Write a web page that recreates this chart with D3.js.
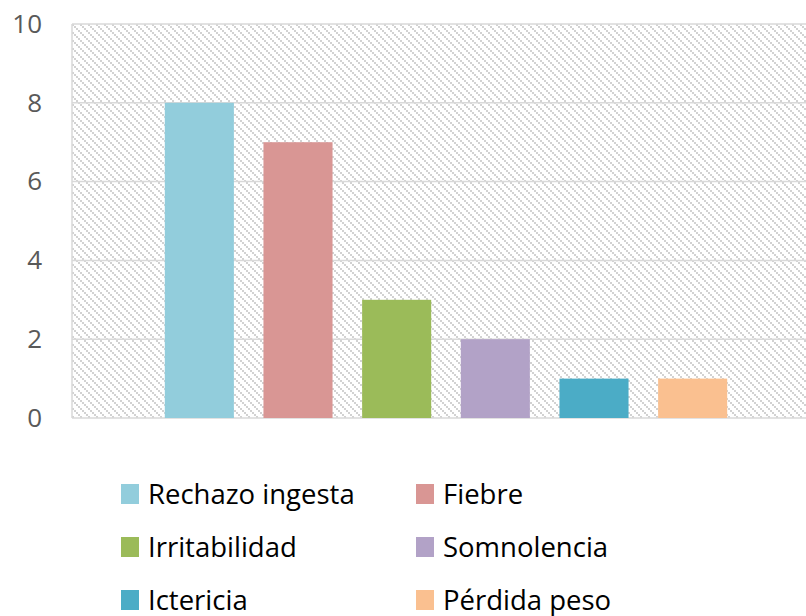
<!DOCTYPE html>
<html>
<head>
<meta charset="utf-8">
<script src="https://cdn.jsdelivr.net/npm/d3@7"></script>
<style>
  body { margin: 0; background: #fff; }
  text { font-family: "Open Sans", sans-serif; }
</style>
</head>
<body>
<script>
var WIDTH = 806;
var HEIGHT = 616;

var categories = ["Rechazo ingesta", "Fiebre", "Irritabilidad", "Somnolencia", "Ictericia", "Pérdida peso"];
var values = [8, 7, 3, 2, 1, 1];
var colors = ["#92CDDC", "#D99694", "#9BBB59", "#B2A2C7", "#4BACC6", "#FAC090"];
var yTicks = [0, 2, 4, 6, 8, 10];

var plot = { left: 72, right: 806, top: 24, bottom: 418 };

var svg = d3.select("body")
  .append("svg")
  .attr("width", WIDTH)
  .attr("height", HEIGHT);

// hatch fill of the plot area: staircase of small squares, like Excel's diagonal pattern
var pat = svg.append("defs").append("pattern")
  .attr("id", "hatch")
  .attr("patternUnits", "userSpaceOnUse")
  .attr("width", 8)
  .attr("height", 8);
pat.selectAll("rect")
  .data([0, 2, 4, 6])
  .enter()
  .append("rect")
  .attr("x", function (d) { return d; })
  .attr("y", function (d) { return d; })
  .attr("width", 2)
  .attr("height", 2)
  .attr("fill", "#d2d2d2")
  .attr("shape-rendering", "crispEdges");

var y = d3.scaleLinear()
  .domain([0, 10])
  .range([plot.bottom, plot.top]);

var x = d3.scaleBand()
  .domain(categories)
  .range([150, 742])
  .paddingInner(0.3)
  .paddingOuter(0.15);

svg.append("rect")
  .attr("x", plot.left)
  .attr("y", plot.top)
  .attr("width", plot.right - plot.left)
  .attr("height", plot.bottom - plot.top)
  .attr("fill", "url(#hatch)");

// gridlines
svg.selectAll("line.grid")
  .data(yTicks)
  .enter()
  .append("line")
  .attr("class", "grid")
  .attr("x1", plot.left)
  .attr("x2", plot.right)
  .attr("y1", function (d) { return y(d); })
  .attr("y2", function (d) { return y(d); })
  .attr("stroke", "#d9d9d9")
  .attr("stroke-width", 1.5);

svg.append("line")
  .attr("x1", plot.left)
  .attr("x2", plot.left)
  .attr("y1", plot.top)
  .attr("y2", plot.bottom)
  .attr("stroke", "#d9d9d9")
  .attr("stroke-width", 1.5);

// y axis labels
var yAxis = d3.axisLeft(y)
  .tickValues(yTicks)
  .tickSize(0)
  .tickPadding(0);

var ya = svg.append("g")
  .attr("transform", "translate(42,0)")
  .call(yAxis);
ya.select(".domain").remove();
ya.selectAll("text")
  .attr("font-family", "Open Sans, sans-serif")
  .attr("font-size", 26)
  .attr("fill", "#595959");

// bars
svg.selectAll("rect.bar")
  .data(values)
  .enter()
  .append("rect")
  .attr("class", "bar")
  .attr("x", function (d, i) { return x(categories[i]); })
  .attr("width", x.bandwidth())
  .attr("y", function (d) { return y(d); })
  .attr("height", function (d) { return y(0) - y(d); })
  .attr("fill", function (d, i) { return colors[i]; });

// legend
var legend = svg.selectAll("g.leg")
  .data(categories)
  .enter()
  .append("g")
  .attr("class", "leg")
  .attr("transform", function (d, i) {
    return "translate(" + (i % 2 ? 416 : 121) + "," + (494 + Math.floor(i / 2) * 53) + ")";
  });

legend.append("rect")
  .attr("x", 0)
  .attr("y", -10)
  .attr("width", 18)
  .attr("height", 20)
  .attr("fill", function (d, i) { return colors[i]; });

legend.append("text")
  .attr("x", 27)
  .attr("y", 0)
  .attr("dy", "0.36em")
  .attr("font-size", 27.5)
  .attr("fill", "#000")
  .text(function (d) { return d; });
</script>
</body>
</html>
